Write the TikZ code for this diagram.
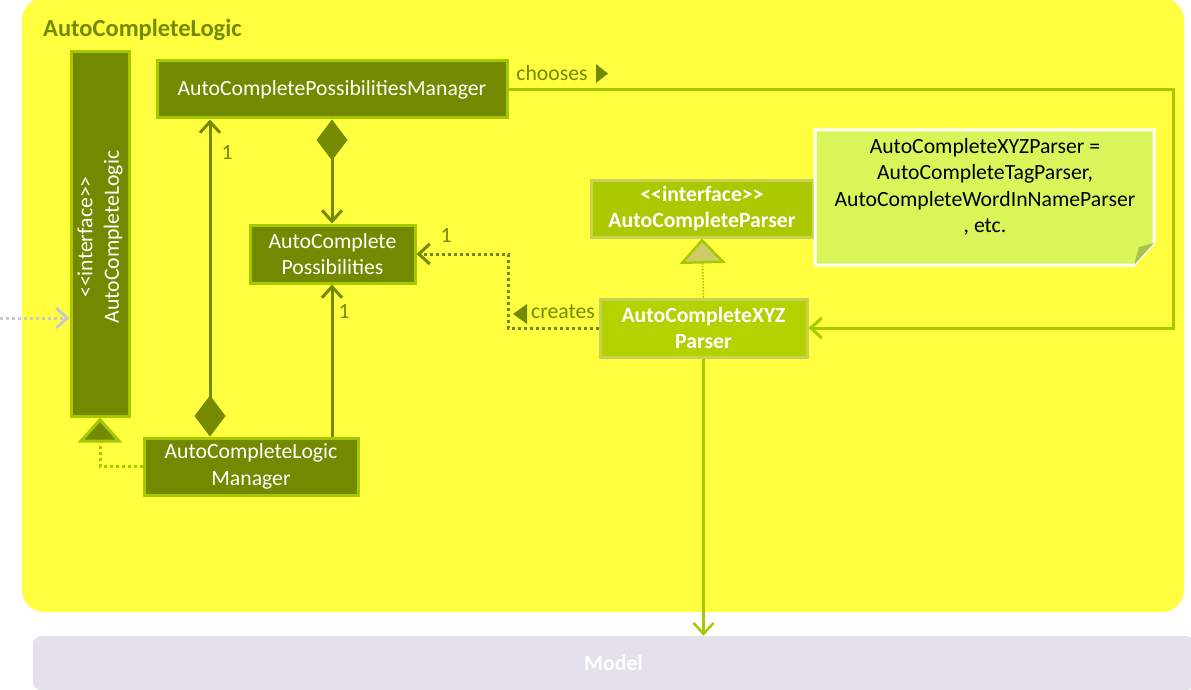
\documentclass[tikz,border=0pt]{standalone}
\usepackage{fontspec}
\setmainfont{Carlito}[Ligatures=TeXOff]
\usetikzlibrary{arrows.meta}
\definecolor{pkg}{HTML}{FFFF40}
\definecolor{dark}{HTML}{738A00}
\definecolor{lgreen}{HTML}{A6C800}
\definecolor{xyzfill}{HTML}{B4D200}
\definecolor{parfill}{HTML}{ABC800}
\definecolor{palebd}{HTML}{C5D350}
\definecolor{notefill}{HTML}{D8F55A}
\definecolor{foldc}{HTML}{A9C24A}
\definecolor{khaki}{HTML}{CFCB6B}
\definecolor{modelfill}{HTML}{E4E0EC}
\definecolor{grayarr}{HTML}{C8C8C8}
\tikzset{
  base/.style={font=\fontsize{21.7pt}{26.5pt}\selectfont},
  darkbox/.style={base, draw=lgreen, fill=dark, line width=3pt, text=white, align=center, inner sep=0pt},
  xyzbox/.style={base, draw=palebd, fill=xyzfill, line width=3pt, text=white, align=center, inner sep=0pt, font=\fontsize{21.7pt}{26.5pt}\selectfont\bfseries},
  parbox/.style={base, draw=palebd, fill=parfill, line width=3pt, text=white, align=center, inner sep=0pt, font=\fontsize{21.7pt}{26pt}\selectfont\bfseries},
  lbl/.style={base, text=dark, inner sep=0pt},
  barb/.tip={Straight Barb[length=11pt,width=20pt]},
  diamarr/.style={draw=dark, line width=3pt, {Diamond[length=41pt,width=31pt]}-{barb}},
  solidarr/.style={draw=dark, line width=3pt, -{barb}},
  createsarr/.style={draw=dark, line width=3pt, dash pattern=on 3pt off 3pt, -{barb}},
  choosesarr/.style={draw=lgreen, line width=3pt, -{barb}},
  realizethin/.style={draw=lgreen, line width=1.5pt, dash pattern=on 1.5pt off 1.5pt, -{Triangle[length=25pt,width=46pt,fill=khaki,line width=2.5pt]}},
  realizedark/.style={draw=lgreen, line width=3pt, dash pattern=on 3pt off 3pt, -{Triangle[length=25pt,width=44pt,fill=dark,line width=3pt]}},
  grayarrow/.style={draw=grayarr, line width=3pt, dash pattern=on 3pt off 3pt, -{barb}},
  modelarr/.style={draw=lgreen, line width=2.5pt, -{barb}},
}
\begin{document}
\begin{tikzpicture}[x=1pt,y=-1pt]
\clip (0,0) rectangle (1191,690);
\fill[white] (0,0) rectangle (1191,690);
% package
\fill[pkg, rounded corners=22pt] (22,-2) rectangle (1184,612);
\node[font=\fontsize{24.5pt}{29pt}\selectfont\bfseries, text=dark, anchor=base west, inner sep=0pt] (title) at (43,37) {AutoCompleteLogic};
% model
\node[fill=modelfill, rounded corners=8pt, minimum width=1161pt, minimum height=54pt, inner sep=0pt, text=white, font=\fontsize{21.7pt}{26pt}\selectfont\bfseries] (Model) at (613.5,663) {Model};
% nodes
\node[darkbox, minimum width=58pt, minimum height=364pt] (ACL) at (100,234) {};
\node[base, text=white, rotate=90, align=center, inner sep=0pt] (ACLtext) at (100,237) {<<interface>>\\AutoCompleteLogic};
\node[darkbox, minimum width=350pt, minimum height=57pt] (ACPM) at (332,89.5) {AutoCompletePossibilitiesManager};
\node[darkbox, minimum width=165pt, minimum height=58pt] (ACP) at (332.5,254) {AutoComplete\\Possibilities};
\node[darkbox, minimum width=214pt, minimum height=57pt] (ACLM) at (251,466.5) {AutoCompleteLogic\\Manager};
\node[parbox, minimum width=222pt, minimum height=57pt] (ACParser) at (702,208.5) {<<interface>>\\AutoCompleteParser};
\node[xyzbox, minimum width=207pt, minimum height=58pt] (XYZ) at (703.5,328) {AutoCompleteXYZ\\Parser};
% note
\fill[notefill] (815,130) -- (1154,130) -- (1154,243) -- (1134,265) -- (815,265) -- cycle;
\draw[white, line width=3pt, line join=miter] (815,130) -- (1154,130) -- (1154,243) -- (1134,265) -- (815,265) -- cycle;
\fill[foldc] (1134,265) -- (1139,247) -- (1154,243) -- cycle;
\node[base, align=center, text=black, inner sep=0pt] (note) at (985,187) {AutoCompleteXYZParser =\\AutoCompleteTagParser,\\AutoCompleteWordInNameParser\\, etc.};
% helper coordinates
\coordinate (c1) at (210,0);
\coordinate (c2) at (332,0);
\coordinate (c3) at (508,0);
\coordinate (c4) at (1173,0);
\coordinate (ext) at (0,318);
% edges
\draw[diamarr] (ACLM.north -| c1) -- (ACPM.south -| c1);
\draw[diamarr] (ACPM.south -| c2) -- (ACP.north -| c2);
\draw[solidarr] (ACLM.north -| c2) -- (ACP.south -| c2);
\draw[createsarr] (XYZ.west) -- (XYZ.west -| c3) |- (ACP.east);
\draw[choosesarr] (ACPM.east) -- (ACPM.east -| c4) |- (XYZ.east);
\draw[realizethin] (XYZ.north) -- (ACParser.south);
\draw[realizedark] (ACLM.west) -| (ACL.south);
\draw[grayarrow] (ext) -- (ACL.west |- ext);
\draw[modelarr] (XYZ.south) -- (XYZ.south |- Model.north);
% labels
\node[lbl] (one1) at (227,153) {1};
\node[lbl] (one2) at (446,236) {1};
\node[lbl] (one3) at (344,312) {1};
\node[lbl] (chooses) at (552,73) {chooses};
\fill[dark] (596,64) -- (608,73.5) -- (596,83) -- cycle;
\node[lbl] (creates) at (563,312) {creates};
\fill[dark] (527,304) -- (513,314) -- (527,324) -- cycle;
\end{tikzpicture}
\end{document}
